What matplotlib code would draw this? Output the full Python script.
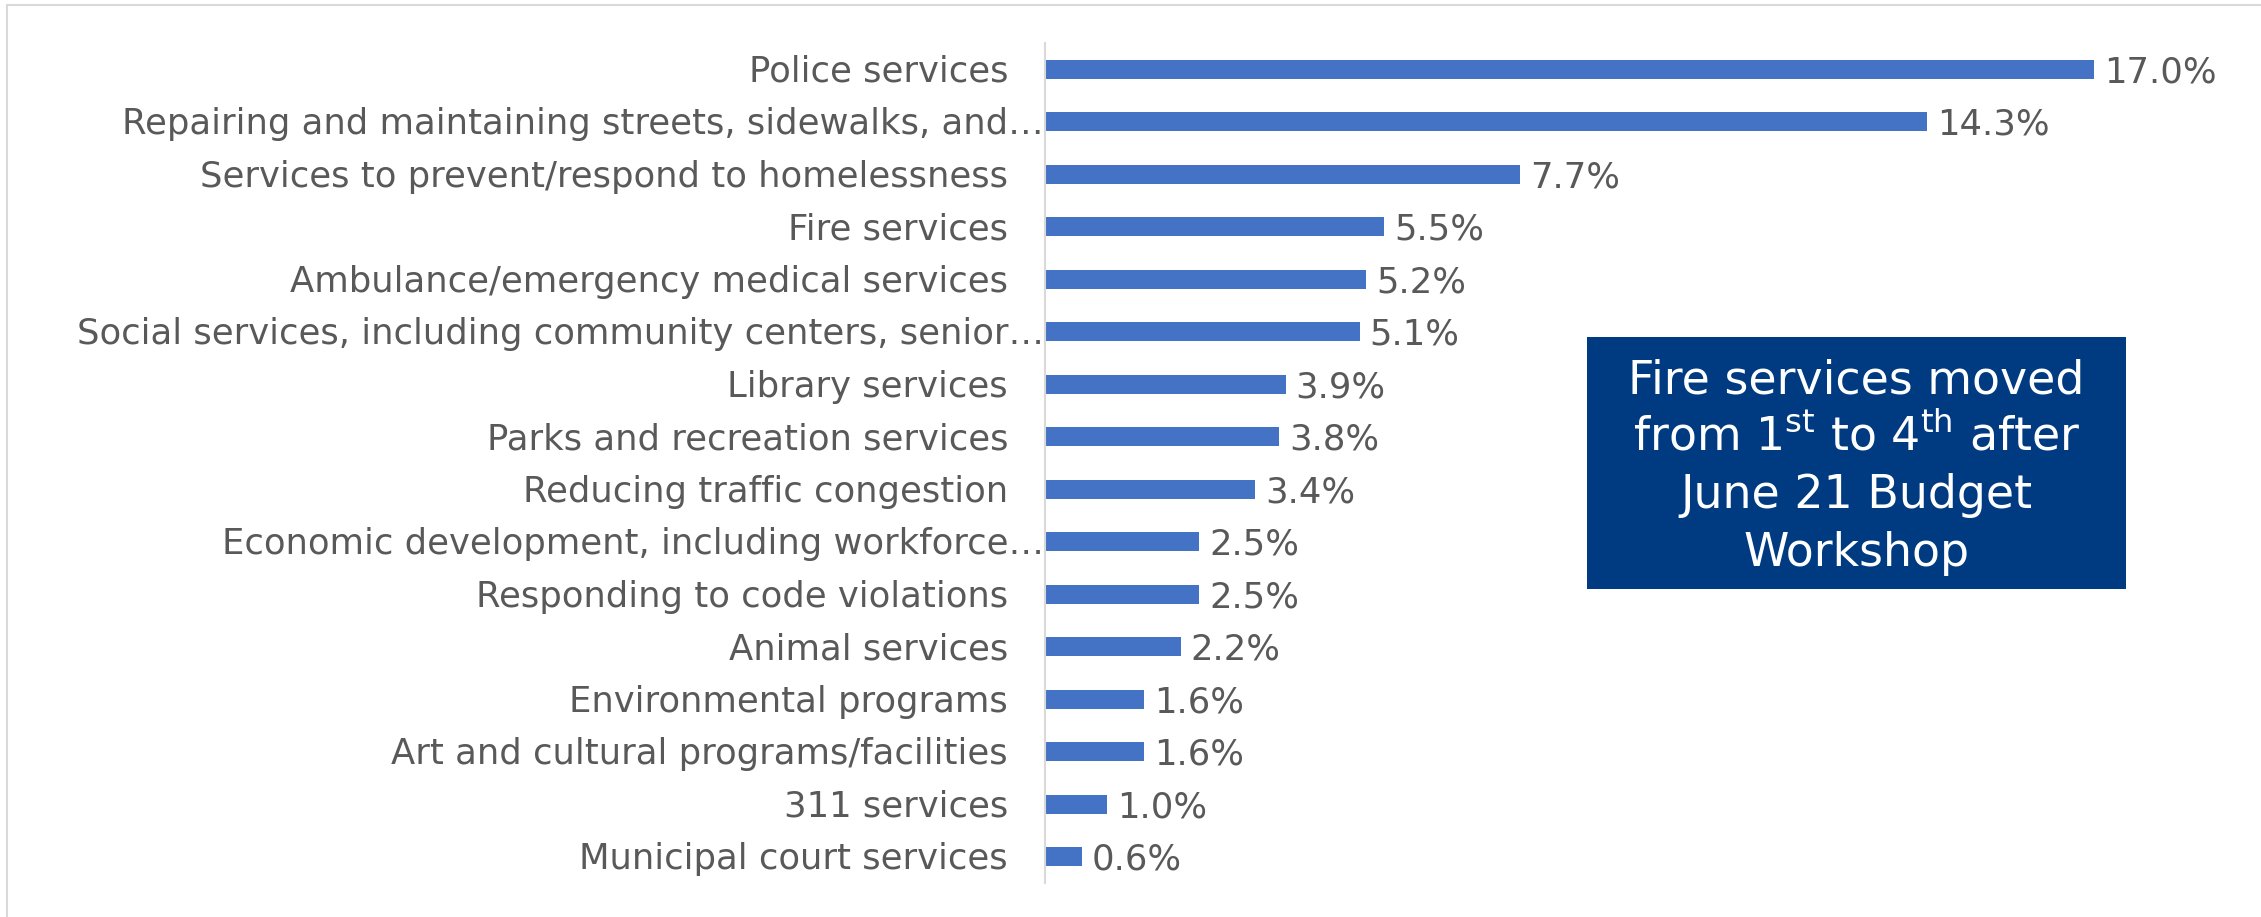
import matplotlib
matplotlib.use("Agg")
import matplotlib.pyplot as plt
from matplotlib.patches import Rectangle

# ---------------- data ----------------
categories = [
    "Police services",
    "Repairing and maintaining streets, sidewalks, and…",
    "Services to prevent/respond to homelessness",
    "Fire services",
    "Ambulance/emergency medical services",
    "Social services, including community centers, senior…",
    "Library services",
    "Parks and recreation services",
    "Reducing traffic congestion",
    "Economic development, including workforce…",
    "Responding to code violations",
    "Animal services",
    "Environmental programs",
    "Art and cultural programs/facilities",
    "311 services",
    "Municipal court services",
]
values = [17.0, 14.3, 7.7, 5.5, 5.2, 5.1, 3.9, 3.8, 3.4, 2.5, 2.5, 2.2, 1.6, 1.6, 1.0, 0.6]
value_labels = [f"{v:.1f}%" for v in values]
note_lines = [
    "Fire services moved",
    r"from 1$^{\mathregular{st}}$ to 4$^{\mathregular{th}}$ after",
    "June 21 Budget",
    "Workshop",
]

# ---------------- style ----------------
plt.rcParams["font.family"] = ["DejaVu Sans"]
plt.rcParams["mathtext.default"] = "regular"
W, H = 2261, 917
BAR = "#4472C4"
TXT = "#595959"
GRID = "#D9D9D9"
BOX = "#003B82"
FS = 25.5

fig = plt.figure(figsize=(W / 100, H / 100), dpi=100)
fig.patch.set_facecolor("white")

# outer chart border (light gray)
fig.patches.append(Rectangle((7 / W, -0.05), 1.1, (H - 5) / H + 0.05,
                             transform=fig.transFigure, fill=False,
                             edgecolor=GRID, linewidth=1.5, clip_on=False))

ax = fig.add_axes([1045 / W, 34 / H, 19 * 61.7 / W, 840 / H])
y = list(range(len(categories)))
ax.barh(y, values, height=0.36, color=BAR, edgecolor="none")
ax.set_xlim(0, 19)
ax.set_ylim(len(categories) - 0.5, -0.5)

for s in ["top", "right", "bottom"]:
    ax.spines[s].set_visible(False)
ax.spines["left"].set_color(GRID)
ax.spines["left"].set_linewidth(1.5)
ax.set_xticks([])
ax.set_yticks([])

ytr = ax.get_yaxis_transform()
for i, (cat, v, lab) in enumerate(zip(categories, values, value_labels)):
    pad = 1.0 if cat.endswith("…") else 26.6
    ax.annotate(cat, xy=(0, i), xycoords=ytr, xytext=(-pad, -9.1),
                textcoords="offset points", ha="right", va="baseline",
                fontsize=FS, color=TXT, annotation_clip=False)
    ax.annotate(lab, xy=(v, i), xycoords="data", xytext=(7.2, -9.3),
                textcoords="offset points", ha="left", va="baseline",
                fontsize=FS, color=TXT, annotation_clip=False)

# annotation box
bx0, by0, bw, bh = 1587, H - 589, 539, 252
fig.patches.append(Rectangle((bx0 / W, by0 / H), bw / W, bh / H,
                             transform=fig.transFigure, facecolor=BOX,
                             edgecolor="none"))
cx = (bx0 + bw / 2) / W
baselines = [H - 393, H - 450, H - 508, H - 566]
for line, yb in zip(note_lines, baselines):
    fig.text(cx, yb / H, line, ha="center", va="baseline", fontsize=33,
             color="white")

fig.savefig("out.png", dpi=100, facecolor="white")
